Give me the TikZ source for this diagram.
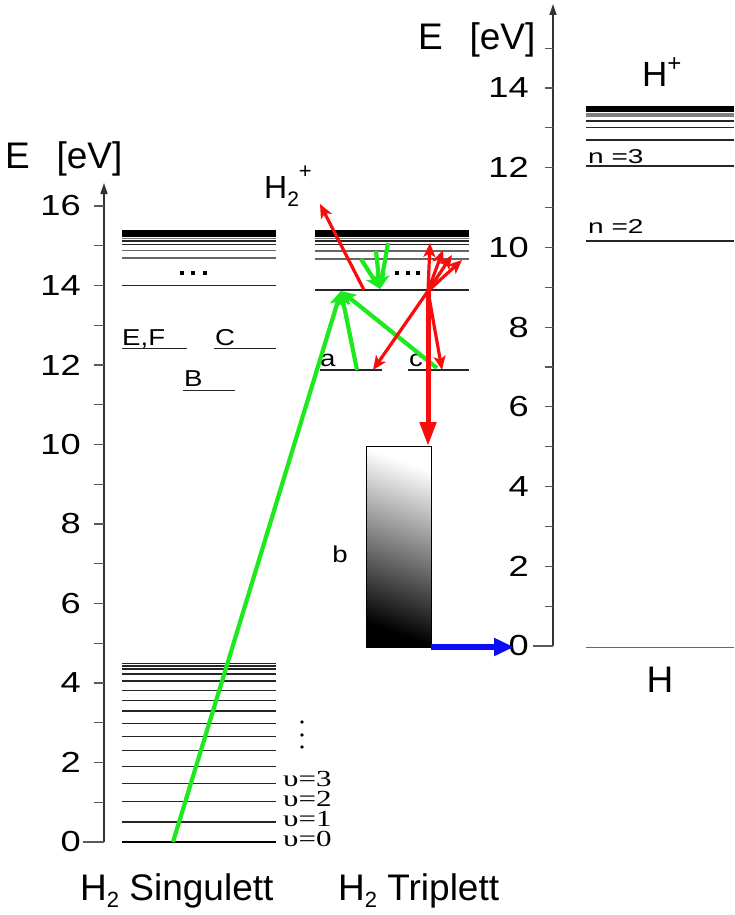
\documentclass[tikz,border=0pt]{standalone}
\usepackage{fontspec}
\setmainfont{Liberation Sans}
\newfontfamily\serifgr{Liberation Serif}
\usetikzlibrary{arrows.meta}
\definecolor{lgreen}{RGB}{30,232,30}
\definecolor{lred}{RGB}{250,12,12}
\definecolor{lblue}{RGB}{12,12,245}
\newcommand{\fs}[1]{\fontsize{#1}{#1}\selectfont}
\newcommand{\wide}[2]{\scalebox{#1}[1]{#2}}

\begin{document}
\begin{tikzpicture}[x=1pt,y=-1pt,
  axisline/.style={line width=1.3pt, draw=black!80},
  tickmark/.style={line width=1.1pt, draw=black!65},
  level/.style={line width=1.1pt, draw=black!85},
  ticklabel/.style={anchor=east, inner sep=0pt, font=\fs{29}},
  lbl/.style={anchor=base west, inner sep=0pt},
  garrow/.style={draw=lgreen, line width=4.2pt, -{Stealth[length=15pt,width=14pt,inset=4pt]}},
  rarrow/.style={draw=lred, line width=3.2pt, -{Stealth[length=14pt,width=12pt,inset=3.5pt]}},
]
\useasboundingbox (0,0) rectangle (734,915);

% ---------- left energy axis (H2) ----------
\draw[axisline,-{Triangle[length=11pt,width=7pt]}] (104,842) -- (104,183);
\foreach \e in {1,...,16} \draw[tickmark] (94,{842-39.75*\e}) -- (104,{842-39.75*\e});
\draw[tickmark] (83,842) -- (104,842);
\foreach \e in {0,2,...,16} \node[ticklabel] at (81,{842-39.75*\e}) {\wide{1.25}{\e}};
\node[lbl, font=\fs{37}] (Eleft) at (5,168) {E\hspace{0.72em}[eV]};

% ---------- right energy axis (H) ----------
\draw[axisline,-{Triangle[length=11pt,width=7pt]}] (553,646) -- (553,4);
\foreach \e in {1,...,15} \draw[tickmark] (545,{646-39.86*\e}) -- (553,{646-39.86*\e});
\draw[tickmark] (533,646) -- (553,646);
\foreach \e in {0,2,...,14} \node[ticklabel] at (529,{646-39.86*\e}) {\wide{1.25}{\e}};
\node[lbl, font=\fs{37}] (Eright) at (418,50) {E\hspace{0.72em}[eV]};

% ---------- singlet levels ----------
\fill[black] (122,229.5) rectangle (276,236.5);
\draw[level, black!55] (122,238.5) -- (276,238.5);
\foreach \y in {241,244.5,285.6} \draw[level] (122,\y) -- (276,\y);
\foreach \y in {250.7,258} \draw[level, black!60] (122,\y) -- (276,\y);
\foreach \x in {181.5,193.3,205} \fill (\x-2,271) rectangle (\x+2,275);
% E,F / C / B
\draw[level] (122,348.5) -- (187,348.5);
\draw[level] (214,348.5) -- (276,348.5);
\draw[level] (183,390.5) -- (235,390.5);
\node[lbl, font=\fs{23}] (EF) at (122,345) {\wide{1.2}{E,F}};
\node[lbl, font=\fs{23}] (Cst) at (215,345) {\wide{1.2}{C}};
\node[lbl, font=\fs{23}] (Bst) at (184,386.5) {\wide{1.2}{B}};
% vibrational ladder of the ground state
\foreach \y in {822,801.7,783.7,766.7,750.7,736.3,723.3,711,700.7,690.7,681,674,669,666,663.3}
  \draw[level] (122,\y) -- (276,\y);
\draw[level, line width=2.2pt, draw=black] (122,842.3) -- (276,842.3);
\node[lbl, font=\serifgr\fs{23}] (v0) at (283,846.7) {\wide{1.35}{υ=0}};
\node[lbl, font=\serifgr\fs{23}] (v1) at (283,826.7) {\wide{1.35}{υ=1}};
\node[lbl, font=\serifgr\fs{23}] (v2) at (283,806.7) {\wide{1.35}{υ=2}};
\node[lbl, font=\serifgr\fs{23}] (v3) at (283,786.7) {\wide{1.35}{υ=3}};
\foreach \y in {722,735,747} \fill (302,\y) circle (1.8);

% ---------- triplet levels ----------
\fill[black] (315,229.5) rectangle (469,236.5);
\draw[level, black!55] (315,238.5) -- (469,238.5);
\foreach \y in {241,244.5,290} \draw[level] (315,\y) -- (469,\y);
\foreach \y in {251,259} \draw[level, black!60] (315,\y) -- (469,\y);
\foreach \x in {397,407.5,418} \fill (\x-2,270.5) rectangle (\x+2,274.5);
\draw[level] (320,370) -- (382,370);
\draw[level] (408,370) -- (469,370);
\node[lbl, font=\fs{23}] (ast) at (320,366.7) {\wide{1.2}{a}};
\node[lbl, font=\fs{23}] (cst) at (409,366.7) {\wide{1.2}{c}};
% repulsive b state
\shade[top color=white, bottom color=black, shading angle=-20] (366,446) rectangle (431,647);
\draw[line width=1pt] (366,446) rectangle (431,647);
\node[font=\fs{23}, inner sep=0pt] (bst) at (340,554) {\wide{1.2}{b}};

% ---------- H levels ----------
\fill[black] (586,106) rectangle (734,112.5);
\foreach \y in {114,116} \draw[level, black!50] (586,\y) -- (734,\y);
\foreach \y in {121,127.5,140,166,241} \draw[level] (586,\y) -- (734,\y);
\draw[level, black!60, line width=1.3pt] (586,647.5) -- (734,647.5);
\node[lbl, font=\fs{20}] (n3) at (588,163.5) {\wide{1.4}{n =3}};
\node[lbl, font=\fs{20}] (n2) at (588,233) {\wide{1.4}{n =2}};

% ---------- species labels ----------
\node[lbl, font=\fs{32}] (H2p) at (264,198) {H\raisebox{-0.27em}{\fs{21}2}\raisebox{0.6em}{\fs{22}+}};
\node[lbl, font=\fs{35}] (Hp) at (642,87) {H\raisebox{0.45em}{\fs{24}+}};
\node[font=\fs{37}, inner sep=0pt, anchor=base] (H) at (660,692) {H};
\node[lbl, font=\fs{37}] (sing) at (80,900) {H\raisebox{-0.2em}{\fs{22}2} Singulett};
\node[lbl, font=\fs{37}] (trip) at (338,900) {H\raisebox{-0.2em}{\fs{22}2} Triplett};

% ---------- excitation (green) ----------
\coordinate (s0) at (173,842);
\coordinate (t14) at (341,291);
\coordinate (aG) at (357,370);
\coordinate (cG) at (437,368);
\draw[garrow] (s0) -- (t14);
\draw[garrow] (aG) -- (t14);
\draw[garrow] (cG) -- (t14);
\coordinate (g1) at (388,243);
\coordinate (g2) at (376,251);
\coordinate (g3) at (361,259);
\coordinate (gt) at (380,289);
\draw[garrow] (g1) -- (gt);
\draw[garrow] (g2) -- (gt);
\draw[garrow] (g3) -- (gt);

% ---------- ionisation and decay (red) ----------
\coordinate (ion) at (364,290);
\coordinate (H2tip) at (320,204);
\draw[rarrow] (ion) -- (H2tip);
\coordinate (P) at (428,291);
\coordinate (u1) at (430,243);
\coordinate (u2) at (443,250);
\coordinate (u3) at (452,255);
\coordinate (u4) at (462,260);
\coordinate (aR) at (373,370);
\coordinate (cR) at (442,370);
\coordinate (bTop) at (428,446);
\foreach \t in {u1,u2,u3,u4,aR,cR} \draw[rarrow] (P) -- (\t);
\draw[lred, line width=5pt, -{Triangle[length=24pt,width=16pt]}] (P) -- (bTop);

% ---------- dissociation (blue) ----------
\coordinate (bB) at (431,647);
\coordinate (bE) at (514,647);
\draw[lblue, line width=6pt, -{Triangle[length=20pt,width=17pt]}] (bB) -- (bE);
\end{tikzpicture}
\end{document}
